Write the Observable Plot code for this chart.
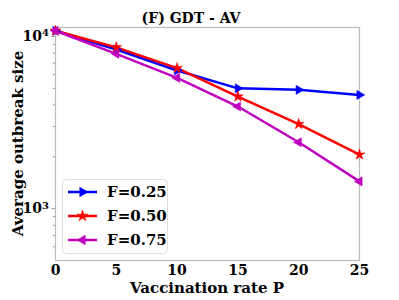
<!DOCTYPE html>
<html>
<head>
<meta charset="utf-8">
<script src="https://cdn.jsdelivr.net/npm/d3@7"></script>
<script src="https://cdn.jsdelivr.net/npm/@observablehq/plot@0.6"></script>
<style>
  html, body { margin: 0; padding: 0; background: white; }
</style>
</head>
<body>
<div id="chart"></div>
<script>
const vaccination = [0, 5, 10, 15, 20, 25];
const seriesNames = ["F=0.25", "F=0.50", "F=0.75"];
const f025 = [10800, 8400, 6350, 5000, 4900, 4580];
const f050 = [10800, 8650, 6550, 4480, 3100, 2060];
const f075 = [10800, 7930, 5750, 3920, 2430, 1440];
const xTicks = [0, 5, 10, 15, 20, 25];
const yMajorTicks = [1000, 10000];
const yMinorTicks = [600, 700, 800, 900, 2000, 3000, 4000, 5000, 6000, 7000, 8000, 9000];
const colors = ["#0000ff", "#ff0000", "#bf00bf"];
const symbols = ["triangle", "star", "triangle"];
const rotations = [90, 0, -90];
const title = "(F) GDT - AV";
const xLabel = "Vaccination rate P";
const yLabel = "Average outbreak size";

const values = [f025, f050, f075];
const data = [];
seriesNames.forEach((s, i) => {
  vaccination.forEach((v, j) => data.push({series: s, P: v, size: values[i][j]}));
});

const font = "DejaVu Serif";

const chart = Plot.plot({
  width: 399,
  height: 300,
  marginLeft: 55,
  marginRight: 40,
  marginTop: 27,
  marginBottom: 40,
  style: {fontFamily: font, fontWeight: "bold", fontSize: "14px", background: "white", color: "black"},
  x: {domain: [0, 25]},
  y: {type: "log", domain: [500, 11280]},
  color: {domain: seriesNames, range: colors},
  symbol: {domain: seriesNames, range: symbols},
  marks: [
    Plot.frame({stroke: "#bbbbbb", strokeWidth: 1.2}),
    Plot.axisX({ticks: xTicks, tickSize: 0, tickPadding: 5, label: null, fontSize: 14, fontWeight: "bold"}),
    Plot.axisY({ticks: yMajorTicks, tickSize: 3.5, tickPadding: 3, stroke: "#999", label: null,
      tickFormat: d => "10^" + Math.round(Math.log10(d)), fontSize: 14, fontWeight: "bold"}),
    Plot.axisY({ticks: yMinorTicks, tickSize: 2, stroke: "#999", label: null, tickFormat: () => ""}),
    Plot.line(data, {x: "P", y: "size", z: "series", stroke: "series", strokeWidth: 2.5}),
    Plot.dot(data, {x: "P", y: "size", fill: "series", stroke: "series", symbol: "series",
      rotate: d => rotations[seriesNames.indexOf(d.series)], r: 3.4, strokeWidth: 0.5})
  ]
});

document.getElementById("chart").appendChild(chart);

const svg = d3.select(chart.tagName.toLowerCase() === "svg" ? chart : chart.querySelector("svg"));
svg.selectAll("text").each(function() {
  const t = d3.select(this);
  const m = /^10\^(\d+)$/.exec(t.text());
  if (m) {
    t.text("");
    t.append("tspan").text("10");
    t.append("tspan").attr("dy", "-0.45em").style("font-size", "10px").text(m[1]);
  }
});

// titles
const tg = svg.append("g").attr("fill", "black");
tg.append("text").attr("x", 191).attr("y", 23).attr("text-anchor", "middle")
  .style("font-family", font).style("font-weight", "bold").style("font-size", "14px").text(title);
tg.append("text").attr("x", 207).attr("y", 293).attr("text-anchor", "middle")
  .style("font-family", font).style("font-weight", "bold").style("font-size", "15px").text(xLabel);
tg.append("text").attr("transform", "translate(23,143.5) rotate(-90)").attr("text-anchor", "middle")
  .style("font-family", font).style("font-weight", "bold").style("font-size", "15px").text(yLabel);

// legend
const lg = svg.append("g").attr("text-anchor", "start");
lg.append("rect").attr("x", 62.5).attr("y", 179.5).attr("width", 105).attr("height", 74)
  .attr("rx", 4).attr("fill", "white").attr("fill-opacity", 0.85).attr("stroke", "#dddddd");
const symMap = {triangle: d3.symbolTriangle, star: d3.symbolStar};
seriesNames.forEach((s, i) => {
  const y = 192 + i * 24;
  lg.append("line").attr("x1", 68).attr("x2", 97).attr("y1", y).attr("y2", y)
    .attr("stroke", colors[i]).attr("stroke-width", 2.5);
  lg.append("path").attr("d", d3.symbol(symMap[symbols[i]], 40)())
    .attr("transform", `translate(82.5,${y}) rotate(${rotations[i]})`)
    .attr("fill", colors[i]).attr("stroke", colors[i]).attr("stroke-width", 0.5);
  lg.append("text").attr("x", 107).attr("y", y).attr("dy", "0.36em").attr("text-anchor", "start")
    .style("font-family", font).style("font-weight", "bold").style("font-size", "15px").text(s);
});
</script>
</body>
</html>
